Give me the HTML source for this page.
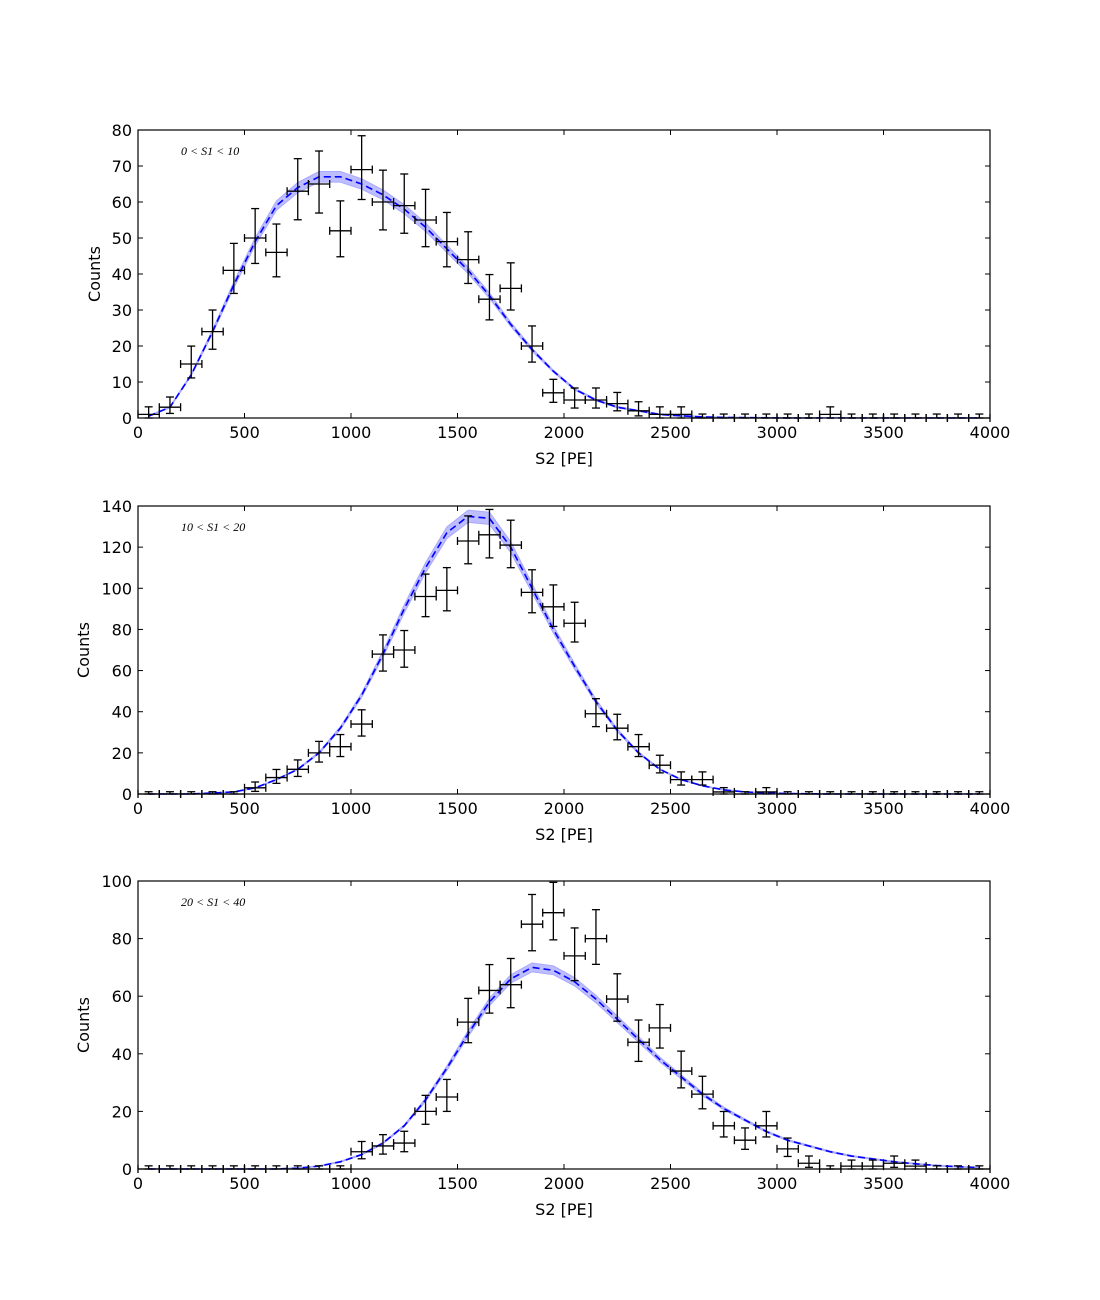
<!DOCTYPE html>
<html><head><meta charset="utf-8">
<style>
body{margin:0;background:#fff;}
svg{display:block;font-family:"DejaVu Sans","Liberation Sans",sans-serif;}
</style></head>
<body>
<svg id="fig" width="1100" height="1300" viewBox="0 0 1100 1300" xmlns="http://www.w3.org/2000/svg"></svg>
<script>
const binCenters = [50,150,250,350,450,550,650,750,850,950,1050,1150,1250,1350,1450,1550,1650,1750,1850,1950,2050,2150,2250,2350,2450,2550,2650,2750,2850,2950,3050,3150,3250,3350,3450,3550,3650,3750,3850,3950];
const xTicks = [0,500,1000,1500,2000,2500,3000,3500,4000];
const data1 = [1,3,15,24,41,50,46,63,65,52,69,60,59,55,49,44,33,36,20,7,5,5,4,2,1,1,0,0,0,0,0,0,1,0,0,0,0,0,0,0];
const model1 = [0.5,3,12,24,37,49,59,64,67,67,65,62,58,53,47,41,34,26,19,13,8,5,3,2,1,0.6,0.3,0.15,0.1,0.05,0,0,0,0,0,0,0,0,0,0];
const yTicks1 = [0,10,20,30,40,50,60,70,80];
const data2 = [0,0,0,0,0,3,8,12,20,23,34,68,70,96,99,123,126,121,98,91,83,39,32,23,14,7,7,1,0,1,0,0,0,0,0,0,0,0,0,0];
const model2 = [0,0,0,0.5,1,3,7,12,20,32,48,68,90,110,127,135,134,120,100,80,62,45,31,20,12,7,4,2,1,0.5,0.2,0.1,0,0,0,0,0,0,0,0];
const yTicks2 = [0,20,40,60,80,100,120,140];
const data3 = [0,0,0,0,0,0,0,0,0,0,6,8,9,20,25,51,62,64,85,89,74,80,59,44,49,34,26,15,10,15,7,2,0,1,1,2,1,0,0,0];
const model3 = [0,0,0,0,0,0,0,0.3,1,2.5,5,9,15,24,35,47,58,66,70,69,65,59,52,45,38,32,26,21,17,13,10,8,6,4.5,3.5,2.5,1.8,1.2,0.8,0.5];
const yTicks3 = [0,20,40,60,80,100];

const NS="http://www.w3.org/2000/svg";
const svg=document.getElementById('fig');
function mk(tag,attrs,parent){const e=document.createElementNS(NS,tag);for(const k in attrs)e.setAttribute(k,attrs[k]);(parent||svg).appendChild(e);return e;}

const panels=[
 {top:130,data:data1,model:model1,yTicks:yTicks1,ymax:80,label:"0 < S1 < 10",ylx:100},
 {top:506,data:data2,model:model2,yTicks:yTicks2,ymax:140,label:"10 < S1 < 20",ylx:89},
 {top:881,data:data3,model:model3,yTicks:yTicks3,ymax:100,label:"20 < S1 < 40",ylx:89}
];
const L=138,R=990,H=288;
panels.forEach((p,pi)=>{
  const g=mk('g',{});
  
  
  const X=v=>L+(v/4000)*(R-L);
  const Y=v=>p.top+H-(v/p.ymax)*H;
  let up=[],dn=[];
  binCenters.forEach((c,i)=>{const m=p.model[i];const w=Math.max(0.022*m,0.05*Math.sqrt(m)+0.1);up.push(X(c)+','+Y(m+w));dn.unshift(X(c)+','+Y(Math.max(0,m-w)));});
  const band=mk('polygon',{points:up.concat(dn).join(' '),fill:'#b3b3ff',stroke:'#9a9aff','stroke-width':1,opacity:0.85},g);
  
  
  const line=mk('polyline',{points:binCenters.map((c,i)=>X(c)+','+Y(p.model[i])).join(' '),fill:'none',stroke:'#0000ff','stroke-width':1.6,'stroke-dasharray':'7,4'},g);
  
  
  binCenters.forEach((c,i)=>{
    const n=p.data[i];
    const lo=Math.max(0,n-Math.sqrt(n)), hi=n+Math.sqrt(n)+1.1;
    const eg=mk('g',{stroke:'#000','stroke-width':1.3},g);
    
    
    const x=X(c);
    mk('line',{x1:X(c-50),x2:X(c+50),y1:Y(n),y2:Y(n)},eg);
    mk('line',{x1:x,x2:x,y1:Y(lo),y2:Y(hi)},eg);
    mk('line',{x1:x-4,x2:x+4,y1:Y(lo),y2:Y(lo)},eg);
    mk('line',{x1:x-4,x2:x+4,y1:Y(hi),y2:Y(hi)},eg);
    mk('line',{x1:X(c-50),x2:X(c-50),y1:Y(n)-4,y2:Y(n)+4},eg);
    mk('line',{x1:X(c+50),x2:X(c+50),y1:Y(n)-4,y2:Y(n)+4},eg);
  });
  const fr=mk('rect',{x:L,y:p.top,width:R-L,height:H,fill:'none',stroke:'#000','stroke-width':1.2},g);
  
  
  xTicks.forEach(t=>{
    mk('line',{x1:X(t),x2:X(t),y1:p.top+H,y2:p.top+H-5,stroke:'#000'},g);
    mk('line',{x1:X(t),x2:X(t),y1:p.top,y2:p.top+5,stroke:'#000'},g);
    const tx=mk('text',{x:X(t),y:p.top+H+20,'font-size':16,'text-anchor':'middle'},g);
    tx.textContent=t;
    
    
  });
  p.yTicks.forEach(t=>{
    mk('line',{x1:L,x2:L+5,y1:Y(t),y2:Y(t),stroke:'#000'},g);
    mk('line',{x1:R,x2:R-5,y1:Y(t),y2:Y(t),stroke:'#000'},g);
    const ty=mk('text',{x:L-6,y:Y(t)+6,'font-size':16,'text-anchor':'end'},g);
    ty.textContent=t;
    
    
  });
  const xl=mk('text',{x:(L+R)/2,y:p.top+H+46,'font-size':16,'text-anchor':'middle'},g);
  xl.textContent='S2 [PE]';
  
  
  const yl=mk('text',{x:p.ylx,y:p.top+H/2,'font-size':16,'text-anchor':'middle',transform:'rotate(-90 '+p.ylx+' '+(p.top+H/2)+')'},g);
  yl.textContent='Counts';
  
  
  const lb=mk('text',{x:181,y:p.top+25,'font-size':12,'font-family':'"Liberation Serif",serif','font-style':'italic'},g);
  lb.textContent=p.label;
  
  
});
</script>
</body></html>
